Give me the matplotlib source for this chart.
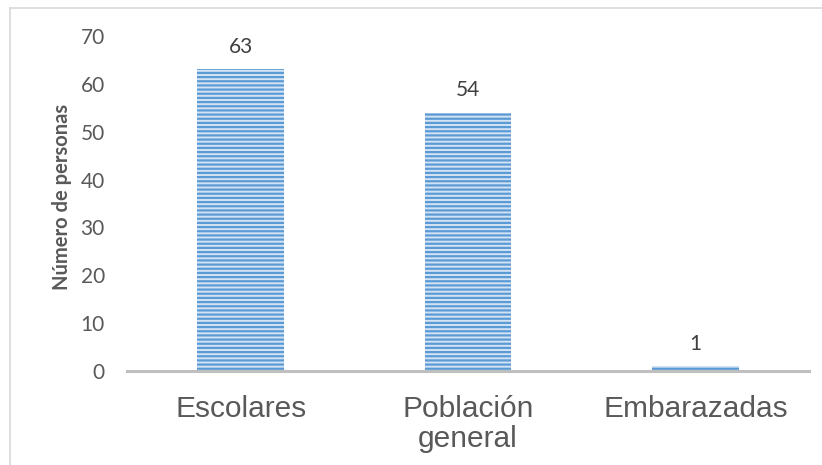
import matplotlib
matplotlib.use('Agg')
import matplotlib.pyplot as plt
from matplotlib.lines import Line2D

# Data
categorias = ['Escolares', 'Población\ngeneral', 'Embarazadas']
personas = [63, 54, 1]
yticks = [0, 10, 20, 30, 40, 50, 60, 70]

plt.rcParams['hatch.linewidth'] = 1.6
plt.rcParams['hatch.color'] = '#5b9bd5'

fig = plt.figure(figsize=(8.22, 4.65), dpi=100)
ax = fig.add_axes([127 / 822, 94 / 465, 682 / 822, 335 / 465])

x = list(range(len(categorias)))
bars = ax.bar(x, personas, width=0.38, color='#d4e3f3', edgecolor='#5b9bd5',
              hatch='----', linewidth=0, zorder=2)

# Data labels
for xi, v in zip(x, personas):
    ax.annotate(str(v), (xi, v), xytext=(0, 9), textcoords='offset points',
                ha='center', va='bottom', fontsize=15, family='Lato',
                color='#404040')

ax.set_xlim(-0.5, 2.5)
ax.set_ylim(0, 70)
ax.set_yticks(yticks)
ax.set_xticks(x)
ax.set_xticklabels(categorias, fontsize=21.5, family='Liberation Sans',
                   color='#595959', linespacing=1.1)
for lab in ax.get_yticklabels():
    lab.set_family('Lato')
    lab.set_fontsize(15)
    lab.set_color('#595959')

ax.tick_params(axis='y', length=0, pad=16)
ax.tick_params(axis='x', length=0, pad=17)

for s in ['top', 'right', 'left']:
    ax.spines[s].set_visible(False)
ax.spines['bottom'].set_color('#bfbfbf')
ax.spines['bottom'].set_linewidth(2.2)
ax.spines['bottom'].set_zorder(3)

ax.set_ylabel('Número de personas', fontsize=14.5, fontweight='bold',
              family='Lato', color='#595959')
ax.yaxis.set_label_coords(-0.08, 0.52)

# Chart border (left and top only visible in the crop)
fig.add_artist(Line2D([10 / 822, 10 / 822], [0, 1 - 8 / 465],
                      transform=fig.transFigure, color='#d9d9d9', lw=1.2))
fig.add_artist(Line2D([10 / 822, 1], [1 - 8 / 465, 1 - 8 / 465],
                      transform=fig.transFigure, color='#d9d9d9', lw=1.2))

fig.savefig('out.png', dpi=100)
